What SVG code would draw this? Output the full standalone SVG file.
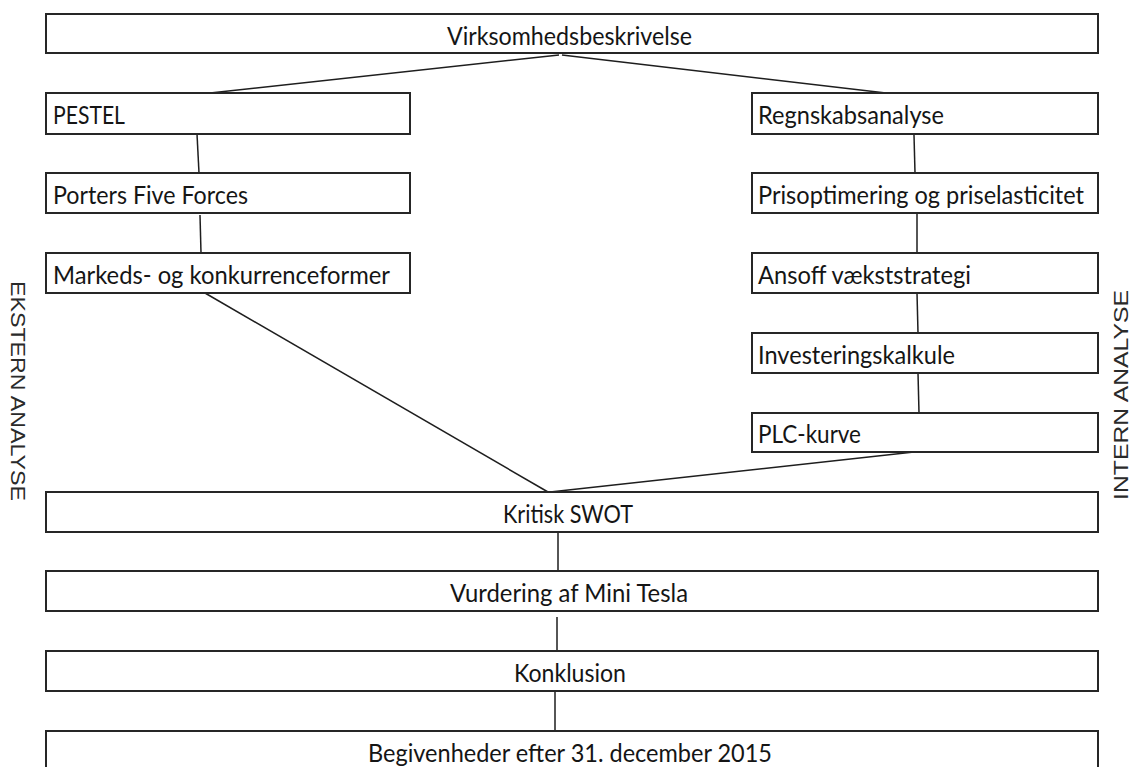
<svg xmlns="http://www.w3.org/2000/svg" width="1135" height="767" viewBox="0 0 1135 767">
<style>
.box{fill:#fff;stroke:#262626;stroke-width:2}
.t{font-family:Lato,"Open Sans",sans-serif;font-size:25px;fill:#151515}
.c{text-anchor:middle}
.side{font-family:"Liberation Sans",Arial,sans-serif;font-size:21px;fill:#2a2a2a;text-anchor:middle}
.ln{stroke:#1e1e1e;stroke-width:1.5;fill:none}
</style>
<rect width="1135" height="767" fill="#fff"/>
<g id="connectors">
<line class="ln" x1="559" y1="55" x2="210" y2="93"/>
<line class="ln" x1="562" y1="55" x2="886" y2="93"/>
<line class="ln" x1="197" y1="134" x2="199" y2="173"/>
<line class="ln" x1="200" y1="215" x2="201" y2="253"/>
<line class="ln" x1="205" y1="293" x2="548" y2="492"/>
<line class="ln" x1="914" y1="135" x2="915" y2="173"/>
<line class="ln" x1="917" y1="213" x2="917" y2="253"/>
<line class="ln" x1="917" y1="293" x2="918" y2="333"/>
<line class="ln" x1="918" y1="373" x2="919" y2="413"/>
<line class="ln" x1="914" y1="452" x2="550" y2="492"/>
<line class="ln" x1="558" y1="532" x2="558" y2="571"/>
<line class="ln" x1="557" y1="617" x2="557" y2="651"/>
<line class="ln" x1="555" y1="691" x2="555" y2="731"/>
</g>
<g id="n-virksomhed"><rect class="box" x="46" y="14" width="1052" height="39"/><text class="t c" x="569.5" y="44.5" textLength="245" lengthAdjust="spacingAndGlyphs">Virksomhedsbeskrivelse</text></g>
<g id="n-pestel"><rect class="box" x="46" y="93" width="364" height="41"/><text class="t" x="53" y="124" textLength="72" lengthAdjust="spacingAndGlyphs">PESTEL</text></g>
<g id="n-porters"><rect class="box" x="46" y="173" width="364" height="40"/><text class="t" x="53" y="204" textLength="195" lengthAdjust="spacingAndGlyphs">Porters Five Forces</text></g>
<g id="n-markeds"><rect class="box" x="46" y="253" width="364" height="40"/><text class="t" x="53" y="283.5" textLength="337" lengthAdjust="spacingAndGlyphs">Markeds- og konkurrenceformer</text></g>
<g id="n-regnskab"><rect class="box" x="752" y="93" width="346" height="41"/><text class="t" x="758" y="124" textLength="186" lengthAdjust="spacingAndGlyphs">Regnskabsanalyse</text></g>
<g id="n-pris"><rect class="box" x="752" y="173" width="346" height="40"/><text class="t" x="758" y="204" textLength="326" lengthAdjust="spacingAndGlyphs">Prisoptimering og priselasticitet</text></g>
<g id="n-ansoff"><rect class="box" x="752" y="253" width="346" height="40"/><text class="t" x="758" y="283.5" textLength="213" lengthAdjust="spacingAndGlyphs">Ansoff vækststrategi</text></g>
<g id="n-invest"><rect class="box" x="752" y="333" width="346" height="40"/><text class="t" x="758" y="363.5" textLength="197" lengthAdjust="spacingAndGlyphs">Investeringskalkule</text></g>
<g id="n-plc"><rect class="box" x="752" y="413" width="346" height="39"/><text class="t" x="758" y="443" textLength="103" lengthAdjust="spacingAndGlyphs">PLC-kurve</text></g>
<g id="n-swot"><rect class="box" x="46" y="492" width="1052" height="40"/><text class="t c" x="568" y="523" textLength="130" lengthAdjust="spacingAndGlyphs">Kritisk SWOT</text></g>
<g id="n-vurdering"><rect class="box" x="46" y="571" width="1052" height="40"/><text class="t c" x="569" y="602" textLength="238" lengthAdjust="spacingAndGlyphs">Vurdering af Mini Tesla</text></g>
<g id="n-konklusion"><rect class="box" x="46" y="651" width="1052" height="40"/><text class="t c" x="570" y="682" textLength="112" lengthAdjust="spacingAndGlyphs">Konklusion</text></g>
<g id="n-begivenheder"><rect class="box" x="46" y="731" width="1052" height="40"/><text class="t c" x="570" y="762" textLength="404" lengthAdjust="spacingAndGlyphs">Begivenheder efter 31. december 2015</text></g>
<g id="label-ekstern"><text class="side" transform="translate(11,391) rotate(90)" textLength="220" lengthAdjust="spacingAndGlyphs">EKSTERN ANALYSE</text></g>
<g id="label-intern"><text class="side" transform="translate(1128,395) rotate(-90)" textLength="210" lengthAdjust="spacingAndGlyphs">INTERN ANALYSE</text></g>
</svg>
